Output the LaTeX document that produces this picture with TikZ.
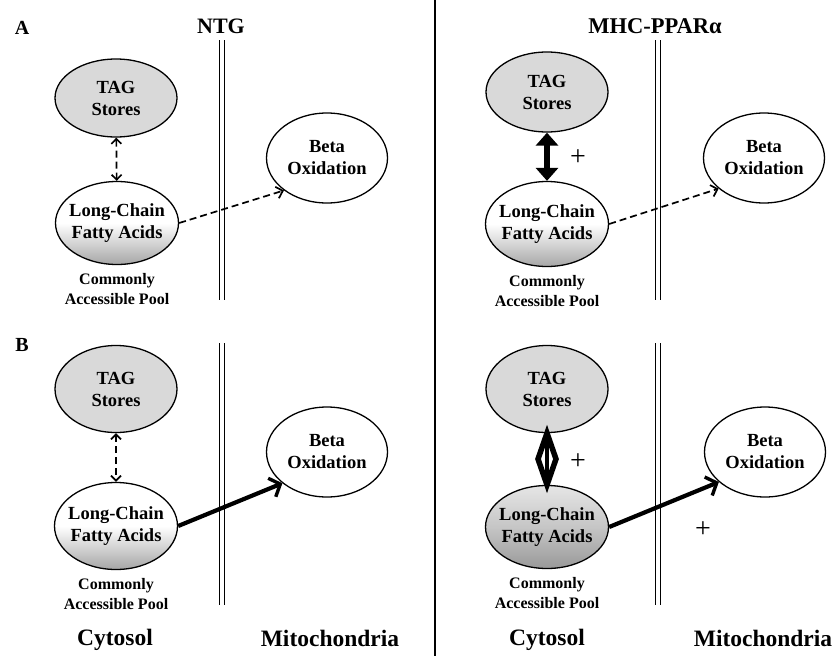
\documentclass[tikz,border=0pt]{standalone}
\usepackage{fontspec}
\setmainfont{Liberation Serif}
\usetikzlibrary{shapes.geometric,arrows.meta,positioning,calc}

\tikzset{
  pool/.style={ellipse, draw, line width=1.3pt, inner xsep=-6pt, inner ysep=0pt, align=center,
    font=\fontsize{18.5}{22}\selectfont\bfseries},
  tagpool/.style={pool, fill=gray!30, minimum width=122pt},
  fapool/.style={pool, top color=white, bottom color=gray!70, middle color=white, minimum width=123pt},
  oxpool/.style={pool, fill=white, minimum width=121pt, minimum height=90pt},
  caption/.style={align=center, font=\fontsize{16}{20}\selectfont\bfseries},
  membrane/.style={double, double distance=4.5pt, line width=1.2pt},
  weak/.style={dashed, dash pattern=on 7pt off 4pt, line width=1.7pt},
  strong/.style={line width=4.2pt, -{Straight Barb[length=9pt,width=20pt,line width=3.4pt]}},
  plus/.style={font=\fontsize{28}{28}\selectfont}
}

\begin{document}
\begin{tikzpicture}[x=1pt,y=-1pt]
\useasboundingbox (0,0) rectangle (837,656);
% divider between the two genotypes
\draw[line width=2.6pt] (435,0) -- (435,656);
\node[font=\fontsize{20}{20}\selectfont\bfseries] (lblA) at (22,28) {A};
\node[font=\fontsize{20}{20}\selectfont\bfseries] (lblB) at (22,345) {B};
\node[font=\fontsize{22}{22}\selectfont\bfseries] (ntg) at (221,26) {NTG};
\node[font=\fontsize{22.5}{22}\selectfont\bfseries] (ppar) at (655,26) {MHC-PPARα};
% mitochondrial membranes
\draw[membrane] (222,40) -- (222,300);
\draw[membrane] (658,40) -- (658,300);
\draw[membrane] (222,343) -- (222,605);
\draw[membrane] (658,343) -- (658,605);

% panel A, NTG
\node[tagpool, minimum height=78pt] (tagNa) at (116,98) {TAG\\Stores};
\node[fapool, minimum height=83pt] (faNa) at (117,223) {Long-Chain\\Fatty Acids};
\node[oxpool] (oxNa) at (327,158) {Beta\\Oxidation};
\node[caption, below=5pt of faNa] (capNa) {Commonly\\Accessible Pool};
\draw[weak, {Straight Barb[length=5pt,width=10pt]}-{Straight Barb[length=5pt,width=10pt]}] (tagNa) -- (faNa);
\draw[weak, -{Straight Barb[length=6pt,width=12pt]}] (faNa.east) -- (oxNa.217);

% panel A, MHC-PPARalpha
\node[tagpool, minimum height=80pt] (tagPa) at (547,92) {TAG\\Stores};
\node[fapool, minimum height=85pt] (faPa) at (547,224) {Long-Chain\\Fatty Acids};
\node[oxpool] (oxPa) at (764,158) {Beta\\Oxidation};
\node[caption, below=5pt of faPa] (capPa) {Commonly\\Accessible Pool};
\draw[line width=6pt, {Triangle[length=13pt,width=22pt]}-{Triangle[length=13pt,width=22pt]}] (tagPa) -- (faPa);
\node[plus] (plusPa) at (578,158) {+};
\draw[weak, -{Straight Barb[length=6pt,width=12pt]}] (faPa.east) -- (oxPa.214);

% panel B, NTG
\node[tagpool, minimum height=87pt] (tagNb) at (116,389) {TAG\\Stores};
\node[fapool, minimum height=87pt] (faNb) at (116,526) {Long-Chain\\Fatty Acids};
\node[oxpool] (oxNb) at (327,452) {Beta\\Oxidation};
\node[caption, below=5pt of faNb] (capNb) {Commonly\\Accessible Pool};
\draw[weak, {Straight Barb[length=5pt,width=10pt]}-{Straight Barb[length=5pt,width=10pt]}] (tagNb) -- (faNb);
\draw[strong] (faNb.east) -- (oxNb.215);

% panel B, MHC-PPARalpha
\node[tagpool, minimum height=87pt] (tagPb) at (547,389) {TAG\\Stores};
\node[fapool, top color=gray!20, bottom color=gray!80, middle color=gray!45, minimum height=83pt] (faPb) at (547,527) {Long-Chain\\Fatty Acids};
\node[oxpool] (oxPb) at (765,452) {Beta\\Oxidation};
\node[caption, below=5pt of faPb] (capPb) {Commonly\\Accessible Pool};
\coordinate (midPb) at ($(tagPb.south)!0.5!(faPb.north)$);
\draw[line width=5.5pt, line join=miter] (tagPb.south) -- ([xshift=-9pt]midPb) -- (faPb.north) -- ([xshift=9pt]midPb) -- cycle;
\draw[line width=4pt] (tagPb.south) -- (faPb.north);
\node[plus] (plusPb) at (578,462) {+};
\draw[strong] (faPb.east) -- (oxPb.213);
\node[plus] (plusOx) at (703,530) {+};

% compartments
\node[font=\fontsize{23.5}{24}\selectfont\bfseries] (cytN) at (115,640) {Cytosol};
\node[font=\fontsize{23.5}{24}\selectfont\bfseries] (mitN) at (330,638) {Mitochondria};
\node[font=\fontsize{23.5}{24}\selectfont\bfseries] (cytP) at (547,640) {Cytosol};
\node[font=\fontsize{23.5}{24}\selectfont\bfseries] (mitP) at (763,638) {Mitochondria};
\end{tikzpicture}
\end{document}
